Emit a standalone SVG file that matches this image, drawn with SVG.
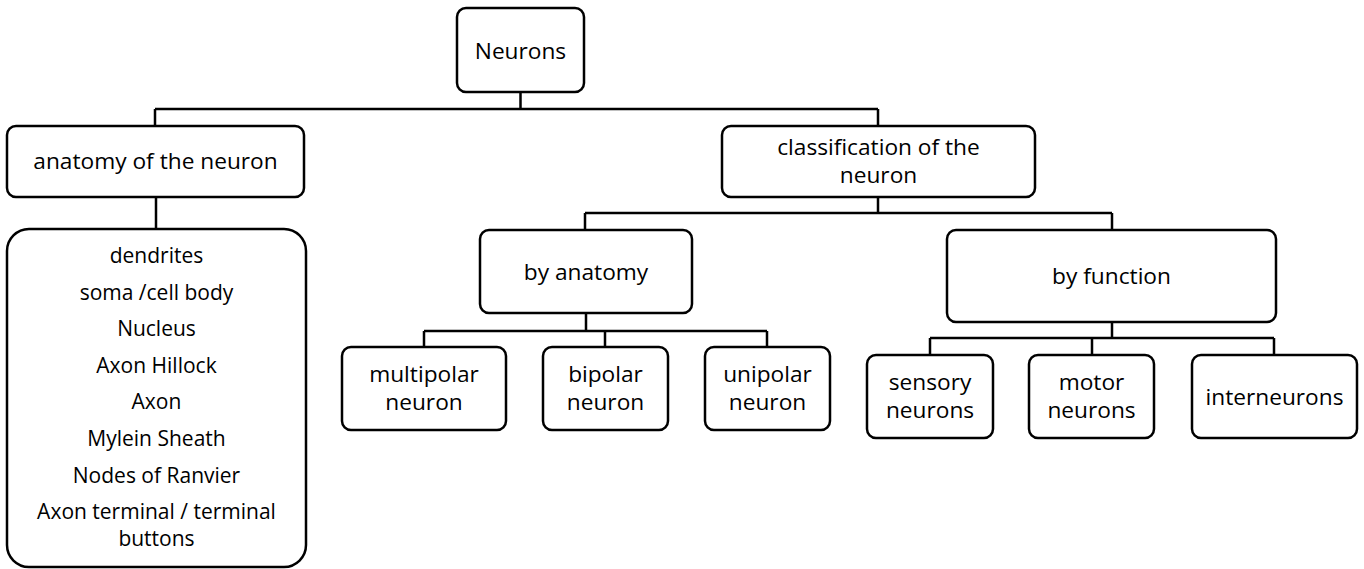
<svg xmlns="http://www.w3.org/2000/svg" width="1364" height="569" viewBox="0 0 1364 569">
<style>
.box{fill:#fff;stroke:#000;stroke-width:2.5}
.conn{fill:none;stroke:#000;stroke-width:2.5}
text{font-family:"Open Sans","Noto Sans","Liberation Sans",sans-serif;fill:#000;text-anchor:middle}
.h{font-size:22.7px}
.l{font-size:21px}
</style>
<rect width="1364" height="569" fill="#fff"/>
<g id="connectors">
<path class="conn" d="M520.5 92V109M155 109H878M155 109V126M878 109V126"/>
<path class="conn" d="M156 197V228"/>
<path class="conn" d="M878 197V213M585 213H1112M585 213V230M1112 213V230"/>
<path class="conn" d="M586 313V331M424 331H767M424 331V347M605 331V347M767 331V347"/>
<path class="conn" d="M1112 322V338M930 338H1274M930 338V355M1092 338V355M1274 338V355"/>
</g>
<g id="neurons"><rect class="box" x="457" y="8" width="127" height="84" rx="9"/><text class="h" x="520.5" y="59">Neurons</text></g>
<g id="anatomy"><rect class="box" x="7" y="126" width="297" height="71" rx="9"/><text class="h" x="155.5" y="169">anatomy of the neuron</text></g>
<g id="parts"><rect class="box" x="7" y="229" width="299" height="338" rx="22"/>
<text class="l" x="156.5" y="263">dendrites</text>
<text class="l" x="156.5" y="300">soma /cell body</text>
<text class="l" x="156.5" y="336">Nucleus</text>
<text class="l" x="156.5" y="373">Axon Hillock</text>
<text class="l" x="156.5" y="409">Axon</text>
<text class="l" x="156.5" y="446">Mylein Sheath</text>
<text class="l" x="156.5" y="483">Nodes of Ranvier</text>
<text class="l" x="156.5" y="519">Axon terminal / terminal</text>
<text class="l" x="156.5" y="546">buttons</text>
</g>
<g id="classification"><rect class="box" x="722" y="126" width="313" height="71" rx="9"/><text class="h" x="878.5" y="155">classification of the</text><text class="h" x="878.5" y="183">neuron</text></g>
<g id="by-anatomy"><rect class="box" x="480" y="230" width="212" height="83" rx="9"/><text class="h" x="586" y="280">by anatomy</text></g>
<g id="by-function"><rect class="box" x="947" y="230" width="329" height="92" rx="9"/><text class="h" x="1111.5" y="284">by function</text></g>
<g id="multipolar"><rect class="box" x="342" y="347" width="164" height="83" rx="9"/><text class="h" x="424" y="382">multipolar</text><text class="h" x="424" y="410">neuron</text></g>
<g id="bipolar"><rect class="box" x="543" y="347" width="125" height="83" rx="9"/><text class="h" x="605.5" y="382">bipolar</text><text class="h" x="605.5" y="410">neuron</text></g>
<g id="unipolar"><rect class="box" x="705" y="347" width="125" height="83" rx="9"/><text class="h" x="767.5" y="382">unipolar</text><text class="h" x="767.5" y="410">neuron</text></g>
<g id="sensory"><rect class="box" x="867" y="355" width="126" height="83" rx="9"/><text class="h" x="930" y="390">sensory</text><text class="h" x="930" y="418">neurons</text></g>
<g id="motor"><rect class="box" x="1029" y="355" width="125" height="83" rx="9"/><text class="h" x="1091.5" y="390">motor</text><text class="h" x="1091.5" y="418">neurons</text></g>
<g id="interneurons"><rect class="box" x="1192" y="355" width="165" height="83" rx="9"/><text class="h" x="1274.5" y="405">interneurons</text></g>
</svg>
